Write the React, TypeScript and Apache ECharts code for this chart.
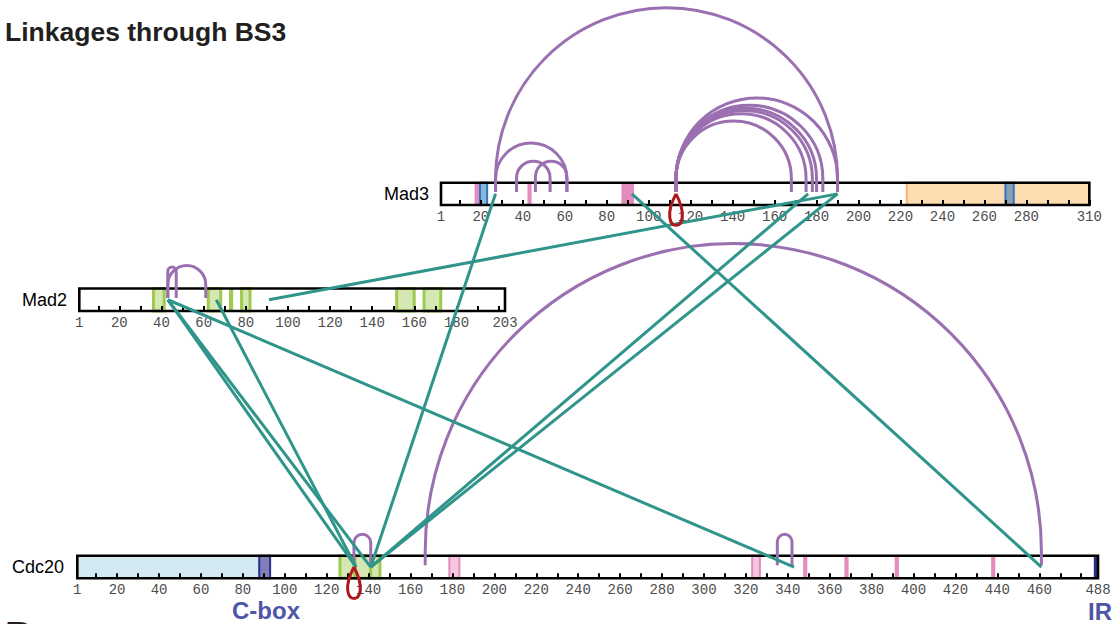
import React, { useEffect, useRef } from 'react';
import * as echarts from 'echarts';

// ---------- data ----------
const proteinNames = ['Mad3', 'Mad2', 'Cdc20'];
const proteinLengths = [310, 203, 488];

const mad3TickLabels = [1, 20, 40, 60, 80, 100, 120, 140, 160, 180, 200, 220, 240, 260, 280, 310];
const mad2TickLabels = [1, 20, 40, 60, 80, 100, 120, 140, 160, 180, 203];
const cdc20TickLabels = [1, 20, 40, 60, 80, 100, 120, 140, 160, 180, 200, 220, 240, 260, 280, 300, 320, 340, 360, 380, 400, 420, 440, 460, 488];
const tickLabels = [mad3TickLabels, mad2TickLabels, cdc20TickLabels];
const minorTickStep = 10;

type Region = [number, number, string];
const mad3Regions: Region[] = [
  [17, 19.6, 'pink'],
  [19.6, 23, 'blue'],
  [42.2, 44.2, 'pink'],
  [87, 93, 'pink'],
  [223, 310, 'orange'],
  [270, 274, 'blueGrey'],
];
const mad2Regions: Region[] = [
  [36.2, 41.3, 'greenBox'],
  [62.2, 68.1, 'greenBox'],
  [72, 74, 'green'],
  [78, 82, 'greenBox'],
  [151.6, 159.9, 'greenBox'],
  [164.6, 172.5, 'greenBox'],
];
const cdc20Regions: Region[] = [
  [1, 87.5, 'lightBlue'],
  [87.8, 93, 'cbox'],
  [126.3, 133.5, 'greenBox'],
  [133.5, 141, 'greenBox'],
  [141, 145.4, 'greenBox'],
  [178.5, 183.3, 'pinkBox'],
  [323, 326.7, 'pinkBox'],
  [347.3, 349.3, 'pink'],
  [367, 369, 'pink'],
  [391, 393, 'pink'],
  [437, 439, 'pink'],
  [486, 488, 'ir'],
];
const proteinRegions = [mad3Regions, mad2Regions, cdc20Regions];

// intra-protein links (arcs above the bar)
type Arc = [number, number];
const mad3Arcs: Arc[] = [
  [27, 190], [27, 61], [37, 53], [46, 61],
  [113, 168], [113, 175], [113, 178], [113, 180], [113, 183], [113, 190],
];
const mad2Arcs: Arc[] = [[43, 47], [43, 61]];
const cdc20Arcs: Arc[] = [[167, 461], [133, 141], [335, 342]];
const proteinArcs = [mad3Arcs, mad2Arcs, cdc20Arcs];

// loop-links (drawn below the bar)
const mad3Loops = [113];
const mad2Loops: number[] = [];
const cdc20Loops = [133];
const proteinLoops = [mad3Loops, mad2Loops, cdc20Loops];

// inter-protein links
const crossLinks: [string, number, string, number][] = [
  ['Mad3', 27, 'Cdc20', 141],
  ['Mad3', 92, 'Cdc20', 461],
  ['Mad3', 190, 'Mad2', 91],
  ['Mad3', 176, 'Cdc20', 141],
  ['Mad3', 190, 'Cdc20', 141],
  ['Mad2', 43, 'Cdc20', 343],
  ['Mad2', 43, 'Cdc20', 134],
  ['Mad2', 43, 'Cdc20', 141],
  ['Mad2', 66, 'Cdc20', 134],
];

// ---------- styles ----------
const PURPLE = '#9b70b1';
const TEAL = '#2f958a';
const RED = '#b0181e';
const REGION_STYLE: Record<string, { fill: string; stroke?: string; lw?: number }> = {
  pink: { fill: '#e48cbf' },
  pinkBox: { fill: '#f6c5df', stroke: '#e48cbf', lw: 2 },
  blue: { fill: '#8db4d9', stroke: '#2a79bf', lw: 2 },
  blueGrey: { fill: '#8d9db4', stroke: '#2a79bf', lw: 2 },
  orange: { fill: '#fddcb1', stroke: '#f7b467', lw: 2 },
  green: { fill: '#9ecb4e' },
  greenBox: { fill: '#d5e8b4', stroke: '#9ecb4e', lw: 3 },
  lightBlue: { fill: '#d3e9f2' },
  cbox: { fill: '#817fbb', stroke: '#2b2f8a', lw: 2 },
  ir: { fill: '#2b2f8a' },
};

const GRID_RECTS = [
  { left: 441, top: 182.7, width: 648.3, height: 22.3 },
  { left: 79.3, top: 288.5, width: 425.7, height: 22.5 },
  { left: 77.3, top: 555.8, width: 1020.7, height: 22.5 },
];

function minorTicks(len: number) {
  const out: number[] = [];
  for (let v = minorTickStep; v <= len; v += minorTickStep) out.push(v);
  return out;
}

export default function App() {
  const ref = useRef<HTMLDivElement>(null);
  useEffect(() => {
    if (!ref.current) return;
    const chart = echarts.init(ref.current, undefined, { renderer: 'svg' });
    const idx = [0, 1, 2];

    const series: any[] = [];
    idx.forEach((i) => {
      const len = proteinLengths[i];
      // white background of the bar
      series.push({
        type: 'custom', xAxisIndex: i, yAxisIndex: i, z: 1, silent: true,
        data: [[1, len]],
        renderItem: (_p: any, api: any) => {
          const a = api.coord([1, 1]);
          const b = api.coord([len, 0]);
          return { type: 'rect', shape: { x: a[0], y: a[1], width: b[0] - a[0], height: b[1] - a[1] }, style: { fill: '#ffffff', lineWidth: 0 } };
        },
      });
      // domains / regions
      const regs = proteinRegions[i];
      series.push({
        type: 'custom', xAxisIndex: i, yAxisIndex: i, z: 1, silent: true,
        data: regs.map((r) => [r[0], r[1]]),
        renderItem: (p: any, api: any) => {
          const r = regs[p.dataIndex];
          const st = REGION_STYLE[r[2]];
          const a = api.coord([r[0], 1]);
          const b = api.coord([r[1], 0]);
          return {
            type: 'rect',
            shape: { x: a[0], y: a[1], width: b[0] - a[0], height: b[1] - a[1] },
            style: { fill: st.fill, stroke: st.stroke || null, lineWidth: st.lw || 0 },
          };
        },
      });
      // outline
      series.push({
        type: 'custom', xAxisIndex: i, yAxisIndex: i, z: 3, silent: true,
        data: [[1, len]],
        renderItem: (_p: any, api: any) => {
          const a = api.coord([1, 1]);
          const b = api.coord([len, 0]);
          return { type: 'rect', shape: { x: a[0], y: a[1], width: b[0] - a[0], height: b[1] - a[1] }, style: { fill: 'none', stroke: '#000', lineWidth: 2.6 } };
        },
      });
      // arcs
      const arcs = proteinArcs[i];
      series.push({
        type: 'custom', xAxisIndex: i, yAxisIndex: i, z: 4, silent: true,
        data: arcs.map((a) => [a[0], a[1]]),
        renderItem: (p: any, api: any) => {
          const arc = arcs[p.dataIndex];
          const p1 = api.coord([arc[0], 0.58]);
          const p2 = api.coord([arc[1], 0.58]);
          const top = api.coord([arc[0], 1])[1];
          const r = (p2[0] - p1[0]) / 2;
          const h = Math.max(r + 4, 21.5);
          const baseY = top - h + r;
          const d = `M${p1[0]} ${p1[1]} L${p1[0]} ${baseY} A${r} ${r} 0 0 1 ${p2[0]} ${baseY} L${p2[0]} ${p2[1]}`;
          return { type: 'path', shape: { pathData: d }, style: { fill: 'none', stroke: PURPLE, lineWidth: 3 } };
        },
      });
      // loops
      const loops = proteinLoops[i];
      series.push({
        type: 'custom', xAxisIndex: i, yAxisIndex: i, z: 6, silent: true,
        data: loops.map((l) => [l, 0.5]),
        renderItem: (p: any, api: any) => {
          const c = api.coord([loops[p.dataIndex], 0.5]);
          const x = c[0];
          const y = c[1];
          const d = `M${x} ${y} C${x - 22} ${y + 42} ${x + 22} ${y + 42} ${x} ${y}`;
          return { type: 'path', shape: { pathData: d }, style: { fill: 'none', stroke: RED, lineWidth: 3 } };
        },
      });
    });

    // inter-protein links
    series.push({
      type: 'custom', coordinateSystem: 'none', z: 5, silent: true,
      data: crossLinks.map((_l, k) => [k]),
      renderItem: (p: any) => {
        const l = crossLinks[p.dataIndex];
        const ia = proteinNames.indexOf(l[0]);
        const ib = proteinNames.indexOf(l[2]);
        const a = chart.convertToPixel({ xAxisIndex: ia, yAxisIndex: ia } as any, [l[1], 0.5]) as number[];
        const b = chart.convertToPixel({ xAxisIndex: ib, yAxisIndex: ib } as any, [l[3], 0.5]) as number[];
        return { type: 'line', shape: { x1: a[0], y1: a[1], x2: b[0], y2: b[1] }, style: { stroke: TEAL, lineWidth: 3 } };
      },
    });

    const labelFont = '"Liberation Sans", Arial, Helvetica, sans-serif';
    const textEl = (text: string, x: number, y: number, size: number, weight: string, color: string, align: string) => ({
      type: 'text', x, y, silent: true,
      style: {
        text, fontFamily: labelFont, fontSize: size, fontWeight: weight, fill: color,
        align, textAlign: align, verticalAlign: 'middle', textVerticalAlign: 'middle',
      },
    });

    chart.setOption({
      animation: false,
      backgroundColor: '#ffffff',
      grid: idx.map((i) => ({ ...GRID_RECTS[i], containLabel: false, outerBoundsMode: 'none', show: false })),
      xAxis: idx.map((i) => ({
        gridIndex: i, type: 'value', min: 1, max: proteinLengths[i], z: 2,
        axisLine: { show: false },
        splitLine: { show: false },
        axisTick: { show: true, inside: true, length: 5, customValues: minorTicks(proteinLengths[i]), lineStyle: { color: '#000', width: 2 } },
        axisLabel: {
          show: true, customValues: tickLabels[i], margin: 5,
          fontFamily: '"Liberation Mono", "DejaVu Sans Mono", monospace', fontSize: 14, color: '#4d4d4d',
        },
      })),
      yAxis: idx.map((i) => ({ gridIndex: i, type: 'value', min: 0, max: 1, show: false })),
      series,
      graphic: {
        elements: [
          textEl('Linkages through BS3', 5, 32, 26.5, 'bold', '#231f20', 'left'),
          textEl('Mad3', 429, 194, 18, 'normal', '#000', 'right'),
          textEl('Mad2', 67, 300, 18, 'normal', '#000', 'right'),
          textEl('Cdc20', 64, 567, 18, 'normal', '#000', 'right'),
          textEl('C-box', 266, 610, 24, 'bold', '#4f55a6', 'center'),
          textEl('IR', 1112, 611.5, 24, 'bold', '#4f55a6', 'right'),
          textEl('B', 5, 636, 38, 'bold', '#231f20', 'left'),
        ],
      },
    });
    return () => chart.dispose();
  }, []);
  return <div ref={ref} style={{ position: 'fixed', left: 0, top: 0, width: 1120, height: 624 }} />;
}
